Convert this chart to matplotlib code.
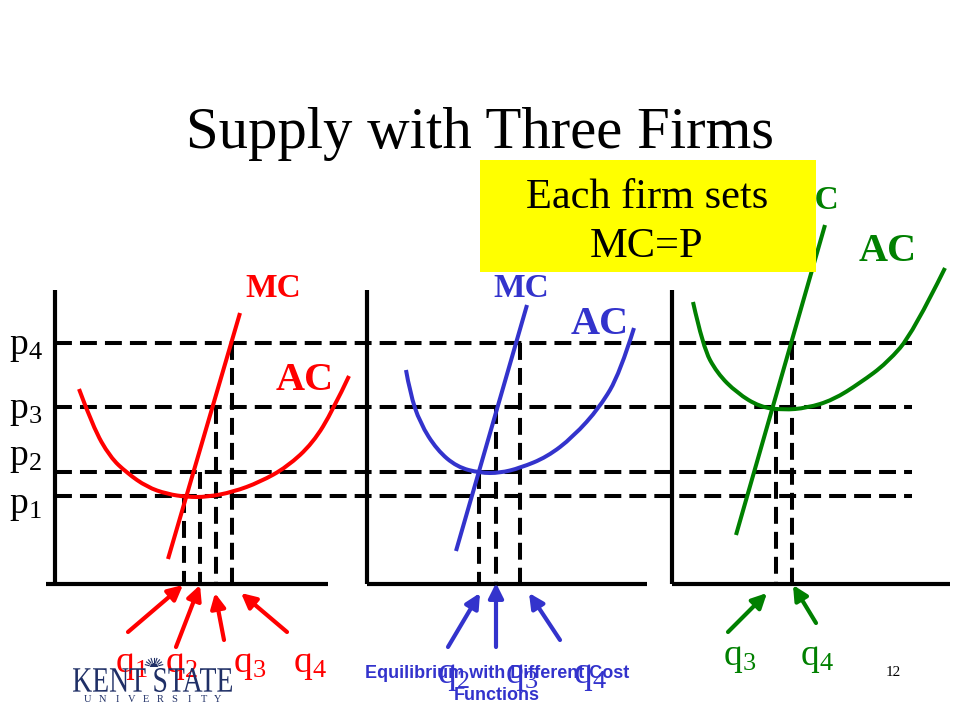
import numpy as np
import matplotlib
matplotlib.use('Agg')
import matplotlib.pyplot as plt
from matplotlib.patches import PathPatch, Rectangle, Wedge
from matplotlib.path import Path
from matplotlib.textpath import TextPath
from matplotlib.font_manager import FontProperties
from matplotlib.transforms import Affine2D

plt.rcParams['mathtext.fontset'] = 'custom'
plt.rcParams['mathtext.rm'] = 'Liberation Serif'
plt.rcParams['mathtext.default'] = 'regular'

SERIF = 'Liberation Serif'
RED, BLUE, GREEN = '#ff0000', '#3333cc', '#008000'
NAVY = '#1f2f66'

price_labels = ['p$_1$', 'p$_2$', 'p$_3$', 'p$_4$']
price_y = [496, 472, 407, 343]
price_label_base = [513, 465, 418, 354]

panel_left = [46, 367, 672]
panel_axis_x = [55, 367, 672]
panel_right = [328, 647, 950]
axis_top, axis_bottom = 290, 584

# firm 1 (red)
mc_red_x, mc_red_y = [168, 240], [559, 313]
ac_red_x = [79, 93, 110, 127, 147, 167, 187, 207, 233, 260, 287, 313, 333, 349]
ac_red_y = [389, 427, 457, 473, 487, 494, 497, 497, 492, 482, 467, 443, 410, 376]
q_red_x = [184, 200, 216, 232]
q_red_top = [496, 472, 407, 343]
q_red_labels = ['q$_1$', 'q$_2$', 'q$_3$', 'q$_4$']
q_red_lab_x = [115, 165, 233, 293]
arrow_red_tail = [(128, 632), (176, 647), (224, 640), (287, 632)]
arrow_red_head = [(183, 585), (200, 585), (215, 593), (241, 593)]

# firm 2 (blue)
mc_blue_x, mc_blue_y = [456, 527], [551, 305]
ac_blue_x = [406, 410, 420, 437, 457, 480, 500, 520, 547, 573, 600, 620, 634]
ac_blue_y = [370, 393, 423, 450, 467, 473, 473, 468, 457, 437, 407, 373, 328]
q_blue_x = [479, 496, 520]
q_blue_top = [472, 407, 343]
q_blue_labels = ['q$_2$', 'q$_3$', 'q$_4$']
q_blue_lab_x = [437, 505, 573]
arrow_blue_tail = [(448, 647), (496, 647), (560, 640)]
arrow_blue_head = [(480, 593), (496, 583), (529, 593)]

# firm 3 (green)
mc_green_x, mc_green_y = [736, 825], [535, 225]
ac_green_x = [693, 703, 717, 737, 760, 783, 807, 833, 860, 887, 913, 945]
ac_green_y = [302, 347, 373, 393, 407, 410, 408, 400, 383, 363, 333, 268]
q_green_x = [776, 792]
q_green_top = [407, 343]
q_green_labels = ['q$_3$', 'q$_4$']
q_green_lab_x = [723, 800]
arrow_green_tail = [(728, 632), (816, 623)]
arrow_green_head = [(767, 593), (793, 585)]


def smooth_path(xs, ys):
    # quadratic B-spline through the read points, drawn by matplotlib's Path
    pts = list(zip(xs, ys))
    verts, codes = [pts[0]], [Path.MOVETO]
    for i in range(1, len(pts) - 2):
        mid = ((pts[i][0] + pts[i + 1][0]) / 2, (pts[i][1] + pts[i + 1][1]) / 2)
        verts += [pts[i], mid]
        codes += [Path.CURVE3, Path.CURVE3]
    verts += [pts[-2], pts[-1]]
    codes += [Path.CURVE3, Path.CURVE3]
    return Path(verts, codes)


fig = plt.figure(figsize=(9.6, 7.2), dpi=100)
ax = fig.add_axes([0, 0, 1, 1])
ax.set_xlim(0, 960)
ax.set_ylim(720, 0)
ax.axis('off')

dash = dict(color='black', lw=2.9, dashes=(4.2, 2.0), zorder=2)

# price levels
for y, lab, base in zip(price_y, price_labels, price_label_base):
    ax.plot([55, 912], [y, y], **dash)
    ax.text(9, base, lab, fontsize=27, family=SERIF, va='baseline', ha='left')

# panel axes
for l, ax_x, r in zip(panel_left, panel_axis_x, panel_right):
    ax.plot([ax_x, ax_x], [axis_top, axis_bottom], color='black', lw=3, zorder=3,
            solid_capstyle='butt')
    ax.plot([l, r], [axis_bottom, axis_bottom], color='black', lw=3, zorder=3,
            solid_capstyle='butt')

firms = [
    (RED, mc_red_x, mc_red_y, ac_red_x, ac_red_y, q_red_x, q_red_top,
     q_red_labels, q_red_lab_x, 672, arrow_red_tail, arrow_red_head),
    (BLUE, mc_blue_x, mc_blue_y, ac_blue_x, ac_blue_y, q_blue_x, q_blue_top,
     q_blue_labels, q_blue_lab_x, 683, arrow_blue_tail, arrow_blue_head),
    (GREEN, mc_green_x, mc_green_y, ac_green_x, ac_green_y, q_green_x, q_green_top,
     q_green_labels, q_green_lab_x, 665, arrow_green_tail, arrow_green_head),
]

for (col, mcx, mcy, acx, acy, qx, qtop, qlabs, qlx, qbase, tails, heads) in firms:
    ax.plot(mcx, mcy, color=col, lw=2.9, zorder=4, solid_capstyle='butt')
    ax.add_patch(PathPatch(smooth_path(acx, acy), facecolor='none',
                           edgecolor=col, lw=2.9, zorder=4, capstyle='butt'))
    for x, top in zip(qx, qtop):
        ax.plot([x, x], [top, axis_bottom], **dash)
    for lab, x in zip(qlabs, qlx):
        ax.text(x, qbase, lab, color=col, fontsize=27, family=SERIF,
                va='baseline', ha='left', zorder=5)
    for t, h in zip(tails, heads):
        ax.annotate('', xy=h, xytext=t,
                    arrowprops=dict(arrowstyle='-|>', color=col, lw=3,
                                    mutation_scale=22, shrinkA=0, shrinkB=0))

# curve labels
bold = dict(family=SERIF, fontweight='bold', ha='center', va='baseline')
ax.text(273, 297, 'MC', color=RED, fontsize=24, **bold)
ax.text(305, 390, 'AC', color=RED, fontsize=29, **bold)
ax.text(521, 297, 'MC', color=BLUE, fontsize=24, **bold)
ax.text(600, 334, 'AC', color=BLUE, fontsize=29, **bold)
ax.text(839, 209, 'MC', color=GREEN, fontsize=24, family=SERIF,
        fontweight='bold', ha='right', va='baseline')
ax.text(888, 261, 'AC', color=GREEN, fontsize=29, **bold)

# yellow call-out
ax.add_patch(Rectangle((480, 160), 336, 112, facecolor='#ffff00',
                       edgecolor='none', zorder=6))
ax.text(647, 208, 'Each firm sets', fontsize=30.5, family=SERIF, ha='center',
        va='baseline', zorder=7)
ax.text(647, 257, 'MC=P', fontsize=30.5, family=SERIF, ha='center',
        va='baseline', zorder=7)

# title
ax.text(480, 148, 'Supply with Three Firms', fontsize=42.3, family=SERIF,
        ha='center', va='baseline')

# footer
ax.text(497, 673, 'Equilibrium with Different Cost', fontsize=13,
        family='Liberation Sans', fontweight='bold', color=BLUE,
        ha='center', va='center', zorder=8)
ax.text(497, 695, 'Functions', fontsize=13, family='Liberation Sans',
        fontweight='bold', color=BLUE, ha='center', va='center', zorder=8)
ax.text(893, 672, '12', fontsize=11, family=SERIF, ha='center', va='center')

# Kent State logo
tp = TextPath((0, 0), 'KENT STATE', size=100, prop=FontProperties(family=SERIF))
bb = tp.get_extents()
tr = (Affine2D().translate(-bb.x0, -bb.y0)
      .scale(159 / bb.width, -24 / bb.height).translate(73, 692))
ax.add_patch(PathPatch(tp, transform=tr + ax.transData, facecolor=NAVY,
                       edgecolor='none', zorder=6))
ax.add_patch(Wedge((154, 667), 4, 180, 360, facecolor=NAVY, edgecolor='none',
                   zorder=6))
for a in np.linspace(15, 165, 9):
    r = np.radians(a)
    ax.plot([154 + 5 * np.cos(r), 154 + 9 * np.cos(r)],
            [667 - 5 * np.sin(r), 667 - 9 * np.sin(r)],
            color=NAVY, lw=0.8, zorder=6)
for ch, x in zip('UNIVERSITY', np.linspace(88, 218, 10)):
    ax.text(x, 700, ch, fontsize=7.5, family=SERIF, color=NAVY,
            ha='center', va='center')

fig.savefig('out.png', dpi=100)
